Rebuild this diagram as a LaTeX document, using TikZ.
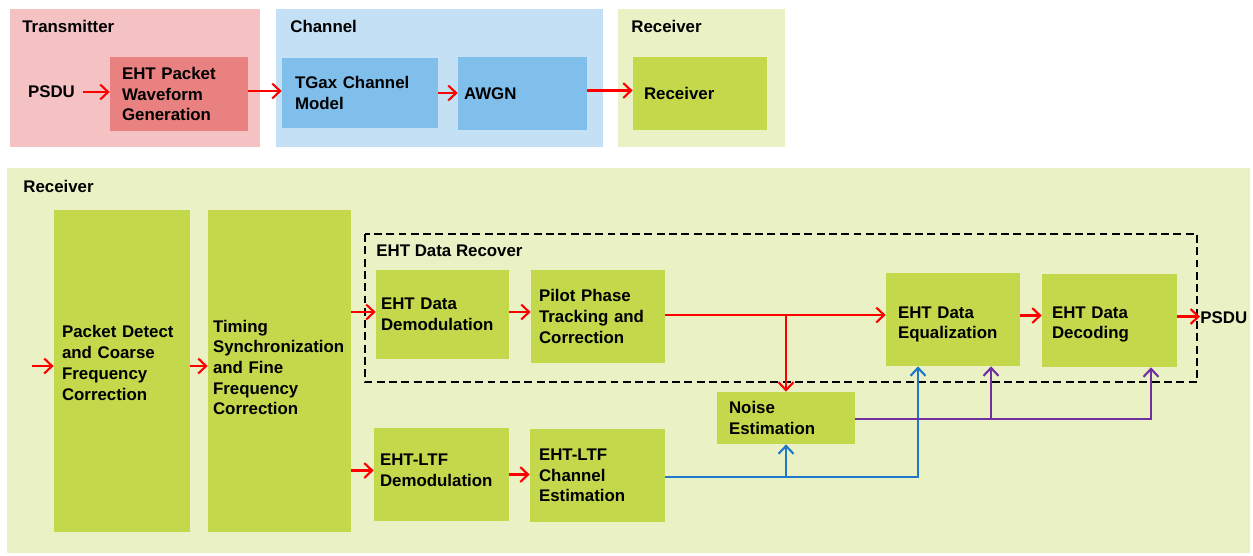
\documentclass[tikz,border=0pt]{standalone}
\usepackage{fontspec}
\setmainfont{Liberation Sans}
\usetikzlibrary{arrows.meta}

\definecolor{txback}{HTML}{F5C2C4}
\definecolor{txblock}{HTML}{E98181}
\definecolor{chback}{HTML}{C3E0F5}
\definecolor{chblock}{HTML}{80BEEC}
\definecolor{rxback}{HTML}{EAF1C5}
\definecolor{rxblock}{HTML}{C4D84B}
\definecolor{lineblue}{HTML}{1F78C8}
\definecolor{linepurple}{HTML}{7030A0}

\begin{document}
\begin{tikzpicture}[
    x=0.02cm,
    y=-0.02cm,
    every node/.style={
        font=\bfseries\fontsize{9.6}{11.8}\selectfont,
        inner sep=0pt
    },
    box/.style={
        rectangle,
        inner sep=0pt,
        align=left
    },
    title/.style={
        anchor=west
    },
    arrow/.style={
        ->,
        >={Straight Barb[length=4.5pt,width=8.5pt]},
        line width=1.2pt,
        red
    }
]

    \useasboundingbox (0,0) rectangle (1253,555);

    % panels
    \fill[txback] (10,9) rectangle (260,147);
    \fill[chback] (276,9) rectangle (603,147);
    \fill[rxback] (618,9) rectangle (785,147);
    \fill[rxback] (7,168) rectangle (1250,553);

    \node[title] (txt) at (22,26) {Transmitter};
    \node[title] (cht) at (290,26) {Channel};
    \node[title] (rxt) at (631,26) {Receiver};
    \node[title] (rxbt) at (23,186) {Receiver};

    % top chain
    \node[inner xsep=0.16cm] (psdu) at (51.5,92)
    {
        PSDU
    };

    \node[box,fill=txblock,minimum width=2.76cm,minimum height=1.48cm,text width=2.28cm] (pkt)
    at (179,94)
    {
        EHT Packet\\Waveform\\Generation
    };

    \node[box,fill=chblock,minimum width=3.12cm,minimum height=1.40cm,text width=2.60cm] (tgax)
    at (360,93)
    {
        TGax Channel\\Model
    };

    \node[box,fill=chblock,minimum width=2.58cm,minimum height=1.46cm,text width=2.34cm] (awgn)
    at (522.5,93.5)
    {
        AWGN
    };

    \node[box,fill=rxblock,minimum width=2.68cm,minimum height=1.46cm,text width=2.24cm] (rxb)
    at (700,93.5)
    {
        Receiver
    };

    \draw[arrow]
    (psdu.east) -- (psdu.east -| pkt.west);

    \draw[arrow]
    ([yshift=0.06cm]pkt.east) -- ([yshift=0.06cm]pkt.east -| tgax.west);

    \draw[arrow]
    (tgax.east) -- (tgax.east -| awgn.west);

    \draw[arrow]
    ([yshift=0.06cm]awgn.east) -- ([yshift=0.06cm]awgn.east -| rxb.west);

    % receiver detail
    \node[box,fill=rxblock,minimum width=2.72cm,minimum height=6.44cm,text width=2.40cm,
        text height=0pt,text depth=37.6pt] (PD)
    at (122,371)
    {
        Packet Detect\\and Coarse\\Frequency\\Correction
    };

    \node[box,fill=rxblock,minimum width=2.86cm,minimum height=6.44cm,text width=2.66cm,
        text height=0pt,text depth=44.4pt] (TS)
    at (279.5,371)
    {
        Timing\\Synchronization\\and Fine\\Frequency\\Correction
    };

    \draw[dashed,dash pattern=on 4.5pt off 2.5pt,line width=1pt]
    (365,234) rectangle (1197,382);

    \node[title] (drt) at (376,251) {EHT Data Recover};

    \node[box,fill=rxblock,minimum width=2.66cm,minimum height=1.78cm,text width=2.46cm] (DD)
    at (442.5,314.5)
    {
        EHT Data\\Demodulation
    };

    \node[box,fill=rxblock,minimum width=2.68cm,minimum height=1.86cm,text width=2.36cm] (PP)
    at (598,316.5)
    {
        Pilot Phase\\Tracking and\\Correction
    };

    \node[box,fill=rxblock,minimum width=2.68cm,minimum height=1.86cm,text width=2.20cm,
        text height=0pt,text depth=1.7pt] (EQ)
    at (953,319.5)
    {
        EHT Data\\Equalization
    };

    \node[box,fill=rxblock,minimum width=2.70cm,minimum height=1.86cm,text width=2.30cm,
        text height=0pt,text depth=2.8pt] (DEC)
    at (1109.5,320.5)
    {
        EHT Data\\Decoding
    };

    \node[title] (psduo) at (1200,318) {PSDU};

    \node[box,fill=rxblock,minimum width=2.76cm,minimum height=1.04cm,text width=2.28cm] (NE)
    at (786,418)
    {
        Noise\\Estimation
    };

    \node[box,fill=rxblock,minimum width=2.70cm,minimum height=1.86cm,text width=2.46cm,
        text height=0pt,text depth=9.7pt] (LD)
    at (441.5,474.5)
    {
        EHT-LTF\\Demodulation
    };

    \node[box,fill=rxblock,minimum width=2.70cm,minimum height=1.86cm,text width=2.34cm] (CE)
    at (597.5,475.5)
    {
        EHT-LTF\\Channel\\Estimation
    };

    \coordinate (in) at (32,366);
    \coordinate (eqb) at ([xshift=-0.70cm]EQ.south);
    \coordinate (eqp) at ([xshift=0.76cm]EQ.south);
    \coordinate (decp) at ([xshift=0.83cm]DEC.south);

    \draw[arrow]
    (in) -- (in -| PD.west);

    \draw[arrow]
    (in -| PD.east) -- (in -| TS.west);

    \draw[arrow]
    ([yshift=0.05cm]TS.east |- DD.west) -- ([yshift=0.05cm]DD.west);

    \draw[arrow]
    ([yshift=0.08cm]TS.east |- LD.west) -- ([yshift=0.08cm]LD.west);

    \draw[arrow]
    ([yshift=0.05cm]DD.east) -- ([yshift=0.05cm]DD.east -| PP.west);

    \draw[arrow]
    (LD.east) -- (LD.east -| CE.west);

    \draw[arrow]
    ([yshift=0.03cm]PP.east) -- ([yshift=0.03cm]PP.east -| EQ.west);

    \draw[arrow]
    ([yshift=0.03cm]PP.east -| NE.north) -- (NE.north);

    \draw[arrow]
    ([yshift=0.08cm]EQ.east) -- ([yshift=0.08cm]EQ.east -| DEC.west);

    \draw[arrow]
    ([yshift=0.08cm]DEC.east) -- ([yshift=0.08cm]DEC.east -| psduo.west);

    \draw[arrow,lineblue]
    ([yshift=-0.03cm]CE.east) -| (eqb);

    \draw[arrow,lineblue]
    ([yshift=-0.03cm]CE.east -| NE.south) -- (NE.south);

    \draw[arrow,linepurple]
    ([yshift=-0.02cm]NE.east) -| (decp);

    \draw[arrow,linepurple]
    ([yshift=-0.02cm]NE.east -| eqp) -- (eqp);

\end{tikzpicture}
\end{document}
